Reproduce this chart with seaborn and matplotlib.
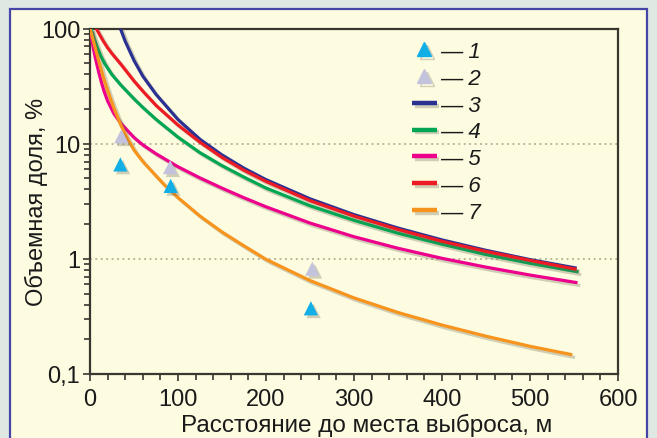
"""
Volume fraction vs distance from release point - log-scale chart.
"""

import pandas as pd
import matplotlib
matplotlib.use("Agg")
import matplotlib.pyplot as plt
import matplotlib.patheffects as pe
from matplotlib.lines import Line2D
from matplotlib.patches import Rectangle
from matplotlib.ticker import FixedLocator, FixedFormatter, MultipleLocator, NullFormatter
import seaborn as sns

# ============================================================
# DATA
# ============================================================
# measured points: distance, m / volume fraction, %
meas1_x = [34.5, 91.7, 251]
meas1_y = [6.6, 4.3, 0.372]
meas2_x = [35.6, 91, 252.6]
meas2_y = [11.6, 6.25, 0.82]

# calculated curves
curve3_x = [30, 34.5, 40, 50, 60, 75, 100, 125, 150, 175, 200, 250, 300, 350, 400, 450, 500, 553]
curve3_y = [127, 100, 77.5, 52.8, 38.6, 26.8, 16.2, 10.9, 7.98, 6.12, 4.87, 3.32, 2.42, 1.85, 1.46, 1.185, 0.985, 0.83]

curve4_x = [1, 4, 8, 12, 17, 25, 35, 50, 60, 75, 100, 125, 150, 175, 200, 250, 300, 350, 400, 450, 500, 555]
curve4_y = [100, 84.7, 69.2, 58.3, 49.1, 39.7, 32.3, 24.5, 20.65, 16.27, 11.39, 8.35, 6.45, 5.12, 4.12, 2.89, 2.16,
            1.67, 1.34, 1.09, 0.915, 0.77]

curve5_x = [0, 2, 4, 6, 8, 10, 13, 16, 20, 27, 35, 50, 60, 75, 100, 125, 150, 175, 200, 250, 300, 350, 400, 450, 500, 554]
curve5_y = [100, 80, 66, 56, 48, 41.5, 34, 28.5, 23.5, 18.3, 15, 11.3, 9.77, 8.17, 6.3, 5.04, 4.11, 3.39, 2.83,
            2.045, 1.556, 1.235, 1.01, 0.847, 0.723, 0.62]

curve6_x = [7, 15, 20, 25, 35, 50, 60, 75, 100, 125, 150, 175, 200, 250, 300, 350, 400, 450, 500, 553]
curve6_y = [100, 78, 68, 60.5, 49, 35, 28.6, 21.5, 14.5, 10.3, 7.6, 5.87, 4.7, 3.2, 2.35, 1.8, 1.42, 1.16, 0.97, 0.81]

curve7_x = [0, 5, 10, 15, 20, 27, 35, 42, 50, 60, 75, 85, 100, 125, 150, 175, 200, 250, 300, 350, 400, 450, 500, 548]
curve7_y = [100, 72, 52, 38, 29, 20.5, 14.5, 11.3, 8.8, 7.0, 5.25, 4.35, 3.4, 2.35, 1.71, 1.296, 0.99,
            0.648, 0.458, 0.342, 0.266, 0.213, 0.174, 0.147]

labels = ["1", "2", "3", "4", "5", "6", "7"]
colors = ["#12aee6", "#c3c3de", "#2b3192", "#00a651", "#ec008c", "#ed1c24", "#f7941d"]

y_ticks = [0.1, 1, 10, 100]
y_tick_labels = ["0,1", "1", "10", "100"]

# ============================================================
# TIDY FRAMES
# ============================================================
curves = pd.concat([
    pd.DataFrame({"curve": lab, "dist": xs, "frac": ys})
    for lab, xs, ys in [("3", curve3_x, curve3_y), ("4", curve4_x, curve4_y),
                        ("5", curve5_x, curve5_y), ("6", curve6_x, curve6_y),
                        ("7", curve7_x, curve7_y)]
], ignore_index=True)

points = pd.concat([
    pd.DataFrame({"series": "1", "dist": meas1_x, "frac": meas1_y}),
    pd.DataFrame({"series": "2", "dist": meas2_x, "frac": meas2_y}),
], ignore_index=True)

palette = dict(zip(labels, colors))

# ============================================================
# PLOT
# ============================================================
sns.set_style("ticks")
plt.rcParams["font.family"] = ["Liberation Sans", "DejaVu Sans"]

cream = "#fdfbe0"
ink = "#1a1a1a"
fig = plt.figure(figsize=(6.57, 4.39), dpi=100, facecolor="#dfe9e4")
frame = Rectangle((10 / 657, -0.02), 637 / 657, 429 / 439 + 0.02,
                  transform=fig.transFigure, facecolor=cream,
                  edgecolor="#4646a6", linewidth=1.6, zorder=-10)
fig.patches.append(frame)
ax = fig.add_axes([90 / 657, 1 - 375 / 439, 528 / 657, 345.5 / 439])
ax.set_facecolor(cream)

shadow = [pe.SimpleLineShadow(offset=(2.0, -2.0), shadow_color="#6b6650", alpha=0.3), pe.Normal()]

ax.axhline(10, color="#b5ad90", linestyle=(0, (1, 2)), linewidth=1.3, zorder=1)
ax.axhline(1, color="#b5ad90", linestyle=(0, (1, 2)), linewidth=1.3, zorder=1)

sns.lineplot(data=curves, x="dist", y="frac", hue="curve", palette=palette,
             estimator=None, sort=False, linewidth=2.3, legend=False, ax=ax, zorder=3)
for line in ax.get_lines()[2:]:
    line.set_path_effects(shadow)
    line.set_solid_capstyle("butt")
    line.set_solid_joinstyle("round")

sns.scatterplot(data=points, x="dist", y="frac", hue="series", palette=palette,
                marker="^", s=105, edgecolor="none", legend=False, ax=ax, zorder=4)
for coll in ax.collections:
    coll.set_path_effects([pe.SimplePatchShadow(offset=(2, -2), shadow_rgbFace="#6b6650", alpha=0.3),
                           pe.Normal()])

ax.set_yscale("log")
ax.set_xlim(0, 600)
ax.set_ylim(0.1, 100)
ax.xaxis.set_major_locator(MultipleLocator(100))
ax.xaxis.set_minor_locator(MultipleLocator(20))
ax.yaxis.set_major_locator(FixedLocator(y_ticks))
ax.yaxis.set_major_formatter(FixedFormatter(y_tick_labels))
ax.yaxis.set_minor_formatter(NullFormatter())

for side in ["top", "right", "left", "bottom"]:
    ax.spines[side].set_visible(True)
    ax.spines[side].set_color("#3a3630")
    ax.spines[side].set_linewidth(1.6)
ax.tick_params(which="both", direction="out", color="#3a3630", width=1.2,
               labelsize=17, labelcolor=ink)
ax.tick_params(axis="x", which="major", pad=5)
ax.tick_params(axis="y", which="major", pad=2)
ax.tick_params(which="major", length=5)
ax.tick_params(which="minor", length=4.5)

ax.set_xlabel("Расстояние до места выброса, м", fontsize=17.5, color=ink)
ax.set_ylabel("Объемная доля, %", fontsize=17, color=ink)
ax.xaxis.set_label_coords(0.523, -0.113)
ax.yaxis.set_label_coords(-0.08, 0.5)

# legend: marker / line, then "— n"
handles = [
    Line2D([], [], marker="^", linestyle="none", color=colors[0], markersize=10),
    Line2D([], [], marker="^", linestyle="none", color=colors[1], markersize=10),
] + [Line2D([], [], color=c, linewidth=3.2, solid_capstyle="butt") for c in colors[2:]]
leg = ax.legend(handles, [f"— {lab}" for lab in labels], loc="upper left",
                bbox_to_anchor=(401 / 657, 1 - 31 / 439), bbox_transform=fig.transFigure,
                frameon=False, handlelength=1.1, handletextpad=0.15, labelspacing=0.26,
                borderpad=0, prop={"size": 16, "style": "italic"})
for txt in leg.get_texts():
    txt.set_color(ink)
for h in leg.legend_handles:
    h.set_path_effects(shadow)

fig.savefig("out.png", dpi=100, facecolor=fig.get_facecolor())
